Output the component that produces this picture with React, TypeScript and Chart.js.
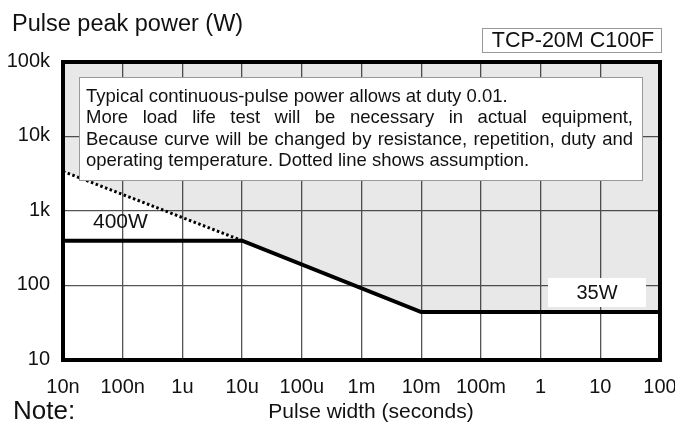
import React, { useEffect, useRef } from "react";
import { Chart, registerables } from "chart.js";

Chart.register(...registerables);

const xTickValues = [1e-8, 1e-7, 1e-6, 1e-5, 1e-4, 1e-3, 1e-2, 1e-1, 1, 10, 100];
const xTickLabels = ["10n", "100n", "1u", "10u", "100u", "1m", "10m", "100m", "1", "10", "100"];
const yTickValues = [10, 100, 1000, 10000, 100000];
const yTickLabels = ["10", "100", "1k", "10k", "100k"];

const solidX = [1e-8, 1e-5, 1e-2, 100];
const solidY = [400, 400, 44, 44];
const dottedX = [1e-8, 1e-5];
const dottedY = [3400, 400];
const fillX = [1e-8, 1e-5, 1e-2, 100];
const fillY = [3400, 400, 44, 44];

const noteLines = [
  "Typical continuous-pulse power allows at duty 0.01.",
  "More load life test will be necessary in actual equipment,",
  "Because curve will be changed by resistance, repetition, duty and",
  "operating temperature. Dotted line shows assumption.",
];
const justified = [false, true, true, false];

const FONT = "'Liberation Sans', Arial, sans-serif";

const pts = (xs: number[], ys: number[]) => xs.map((x, i) => ({ x, y: ys[i] }));

export default function App() {
  const ref = useRef<HTMLCanvasElement | null>(null);
  useEffect(() => {
    document.body.style.margin = "0";
    const canvas = ref.current!;
    const overlay = {
      id: "overlay",
      afterDatasetsDraw(chart: any) {
        const ctx = chart.ctx as CanvasRenderingContext2D;
        const a = chart.chartArea;
        ctx.save();
        // note box
        const bx = 79, by = 77, bw = 642 - 79, bh = 180 - 77;
        ctx.fillStyle = "#fff";
        ctx.fillRect(bx, by, bw, bh);
        ctx.strokeStyle = "#999";
        ctx.lineWidth = 1;
        ctx.strokeRect(bx + 0.5, by + 0.5, bw, bh);
        ctx.fillStyle = "#111";
        ctx.font = `18.5px ${FONT}`;
        ctx.textBaseline = "middle";
        const lx = 86, rx = 633;
        noteLines.forEach((line, i) => {
          const y = 97 + i * 21.4;
          if (justified[i]) {
            const words = line.split(" ");
            const wsum = words.reduce((s, w) => s + ctx.measureText(w).width, 0);
            const gap = (rx - lx - wsum) / (words.length - 1);
            let x = lx;
            words.forEach((w) => {
              ctx.fillText(w, x, y);
              x += ctx.measureText(w).width + gap;
            });
          } else {
            ctx.fillText(line, lx, y);
          }
        });
        // 35W box
        ctx.fillStyle = "#fff";
        ctx.fillRect(548, 278, 98, 29);
        ctx.fillStyle = "#111";
        ctx.font = `20px ${FONT}`;
        ctx.textAlign = "center";
        ctx.fillText("35W", 597, 293);
        ctx.textAlign = "left";
        ctx.font = `21px ${FONT}`;
        ctx.fillText("400W", 93, 222);
        // frame
        ctx.strokeStyle = "#000";
        ctx.lineWidth = 4;
        ctx.strokeRect(a.left, a.top, a.right - a.left, a.bottom - a.top);
        ctx.restore();
      },
      afterDraw(chart: any) {
        const ctx = chart.ctx as CanvasRenderingContext2D;
        const xs = chart.scales.x;
        const ys = chart.scales.y;
        const a = chart.chartArea;
        ctx.save();
        ctx.fillStyle = "#111";
        ctx.textBaseline = "middle";
        // tick labels
        ctx.font = `20px ${FONT}`;
        ctx.textAlign = "center";
        xTickValues.forEach((v, i) => {
          ctx.fillText(xTickLabels[i], xs.getPixelForValue(v), 387);
        });
        ctx.textAlign = "right";
        yTickValues.forEach((v, i) => {
          ctx.fillText(yTickLabels[i], a.left - 13, ys.getPixelForValue(v) - 1);
        });
        ctx.textAlign = "left";
        ctx.font = `23.5px ${FONT}`;
        ctx.fillText("Pulse peak power (W)", 12, 25);
        ctx.font = `26px ${FONT}`;
        ctx.fillText("Note:", 13, 412);
        ctx.font = `21px ${FONT}`;
        ctx.textAlign = "center";
        ctx.fillText("Pulse width (seconds)", 371, 412);
        // model box
        ctx.fillStyle = "#fff";
        ctx.fillRect(482, 28, 180, 25);
        ctx.strokeStyle = "#999";
        ctx.lineWidth = 1;
        ctx.strokeRect(482.5, 28.5, 179, 24);
        ctx.fillStyle = "#111";
        ctx.font = `21.5px ${FONT}`;
        ctx.fillText("TCP-20M C100F", 573, 41);
        ctx.restore();
      },
    };
    const chart = new Chart(canvas, {
      type: "line",
      data: {
        datasets: [
          {
            data: pts(solidX, solidY),
            borderColor: "#000",
            borderWidth: 4,
            pointRadius: 0,
            fill: false,
            order: 1,
          },
          {
            data: pts(dottedX, dottedY),
            borderColor: "#000",
            borderWidth: 3,
            borderDash: [2.5, 2.5],
            pointRadius: 0,
            fill: false,
            order: 2,
          },
          {
            data: pts(fillX, fillY),
            borderWidth: 0,
            borderColor: "rgba(0,0,0,0)",
            backgroundColor: "rgba(0,0,0,0.09)",
            pointRadius: 0,
            fill: "end",
            order: 3,
          },
        ],
      },
      options: {
        responsive: false,
        animation: false,
        layout: { padding: { top: 62, right: 15, left: 0, bottom: 0 } },
        plugins: { legend: { display: false }, tooltip: { enabled: false } },
        scales: {
          x: {
            type: "logarithmic",
            min: 1e-8,
            max: 100,
            afterBuildTicks: (s: any) => {
              s.ticks = xTickValues.map((v) => ({ value: v }));
            },
            afterFit: (s: any) => {
              s.height = 64;
              s.paddingLeft = 0;
              s.paddingRight = 0;
            },
            ticks: { display: false },
            grid: { color: "#555", lineWidth: 1.3, drawTicks: false },
            border: { display: false },
          },
          y: {
            type: "logarithmic",
            min: 10,
            max: 100000,
            afterBuildTicks: (s: any) => {
              s.ticks = yTickValues.map((v) => ({ value: v }));
            },
            afterFit: (s: any) => {
              s.width = 63;
              s.paddingTop = 0;
              s.paddingBottom = 0;
            },
            ticks: { display: false },
            grid: { color: "#555", lineWidth: 1.3, drawTicks: false },
            border: { display: false },
          },
        },
      },
      plugins: [overlay],
    } as any);
    return () => chart.destroy();
  }, []);
  return <canvas ref={ref} width={675} height={424} style={{ display: "block" }} />;
}
